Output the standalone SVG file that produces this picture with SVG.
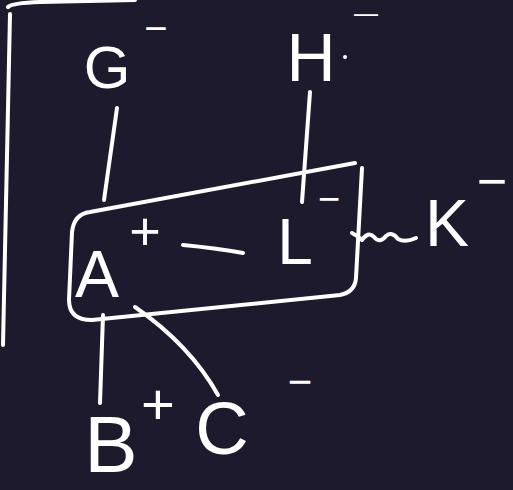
<svg xmlns="http://www.w3.org/2000/svg" width="513" height="490" viewBox="0 0 513 490">
<style>
.ln{fill:none;stroke:#fff;stroke-width:4;stroke-linecap:round;stroke-linejoin:round}
.t{fill:#fff;font-family:"Liberation Sans","DejaVu Sans",sans-serif;text-anchor:middle}
</style>
<rect width="513" height="490" fill="#1e1a2e"/>
<g id="frame" class="ln">
<path d="M10,14 L3,345"/>
<path d="M8,7 Q12,3 40,2 L135,0"/>
</g>
<g id="box" class="ln">
<path d="M355,163 L90,212 Q74,214 72,232 L69,300 Q69,320 92,320 L340,295 Q355,292 356,278 L362,168"/>
</g>
<g id="connectors" class="ln">
<path d="M117,108 L104,200"/>
<path d="M310,92 L302,202"/>
<path d="M183,245 Q215,248 243,253"/>
<path d="M103,315 L100,403"/>
<path d="M135,307 Q190,345 218,395"/>
<path d="M352,233 Q358,236 362,240 Q368,231 374,237 Q380,244 386,236 Q392,231 398,239 Q405,243 416,238"/>
</g>
<g id="node-G"><text class="t" x="107" y="88" font-size="60">G</text><text class="t" x="156" y="42" font-size="40">−</text></g>
<g id="node-H"><text class="t" x="311" y="81" font-size="68">H</text><circle cx="345" cy="57" r="2" fill="#fff"/><text class="t" transform="translate(366,24) scale(1.9,1)" font-size="26">−</text></g>
<g id="node-A"><text class="t" x="97" y="297" font-size="66">A</text><text class="t" x="145" y="250" font-size="54">+</text></g>
<g id="node-L"><text class="t" x="295" y="264" font-size="64">L</text><text class="t" x="329" y="212" font-size="38">−</text></g>
<g id="node-K"><text class="t" x="447" y="246" font-size="66">K</text><text class="t" x="492" y="199" font-size="52">−</text></g>
<g id="node-B"><text class="t" x="111" y="472" font-size="80">B</text><text class="t" x="158" y="424" font-size="58">+</text></g>
<g id="node-C"><text class="t" x="222" y="454" font-size="74">C</text><text class="t" x="300" y="396" font-size="42">−</text></g>
</svg>
